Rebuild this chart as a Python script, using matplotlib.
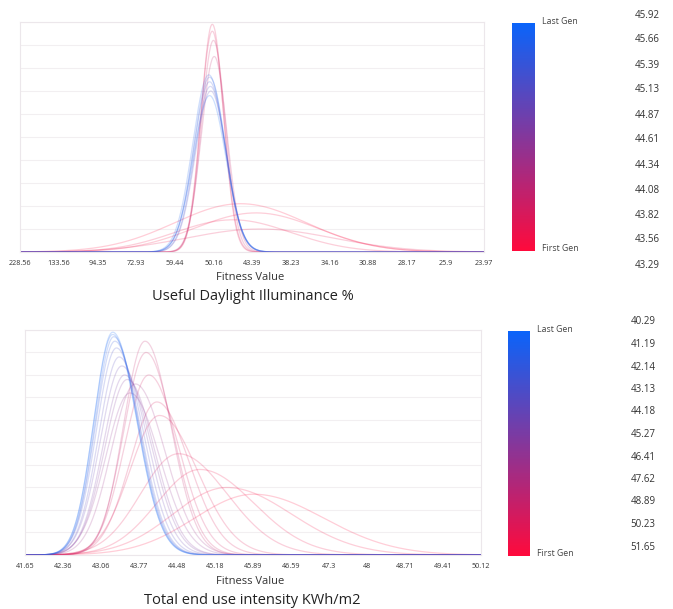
import matplotlib
matplotlib.use('Agg')
import matplotlib.pyplot as plt
import numpy as np
from matplotlib.colors import LinearSegmentedColormap
from matplotlib.cm import ScalarMappable

plt.rcParams['font.family'] = ['Open Sans', 'DejaVu Sans']

# ---- Useful Daylight Illuminance: tick labels (evenly spaced) ----
udi_ticks = ['228.56', '133.56', '94.35', '72.93', '59.44', '50.16', '43.39',
             '38.23', '34.16', '30.88', '28.17', '25.9', '23.97']
# generation curves: generation position (0 = first, 1 = last),
# centre / spread in tick-index units, peak height
udi_gen = [0.0, 0.03, 0.06, 0.09, 0.12, 0.15, 0.2, 0.25, 0.7, 0.76, 0.82, 0.88, 0.94, 1.0]
udi_center = [5.7, 6.1, 5.5, 6.2, 4.97, 4.97, 5.0, 5.02, 4.93, 4.92, 4.9, 4.9, 4.88, 4.9]
udi_sigma = [1.7, 1.6, 1.5, 1.9, 0.29, 0.30, 0.31, 0.33, 0.40, 0.40, 0.41, 0.41, 0.42, 0.42]
udi_peak = [0.21, 0.17, 0.14, 0.10, 0.99, 0.96, 0.92, 0.85, 0.70, 0.72, 0.74, 0.76, 0.77, 0.68]
udi_scale = ['45.92', '45.66', '45.39', '45.13', '44.87', '44.61', '44.34',
             '44.08', '43.82', '43.56', '43.29']

# ---- Total end use intensity ----
eui_ticks = ['41.65', '42.36', '43.06', '43.77', '44.48', '45.18', '45.89',
             '46.59', '47.3', '48', '48.71', '49.41', '50.12']
eui_gen = [0.0, 0.03, 0.06, 0.09, 0.12, 0.15, 0.18, 0.21, 0.24, 0.4,
           0.45, 0.5, 0.55, 0.62, 0.7, 0.77, 0.84, 0.9, 0.95, 1.0]
eui_center = [45.9, 45.4, 44.9, 44.5, 44.15, 44.1, 43.95, 43.9, 43.88, 43.7,
              43.6, 43.55, 43.5, 43.45, 43.4, 43.35, 43.32, 43.3, 43.28, 43.28]
eui_sig_left = [1.1, 1.0, 0.8, 0.7, 0.55, 0.5, 0.45, 0.42, 0.40, 0.45,
                0.45, 0.42, 0.40, 0.40, 0.38, 0.37, 0.36, 0.35, 0.35, 0.35]
eui_sig_right = [1.3, 1.2, 1.0, 0.9, 0.7, 0.6, 0.55, 0.5, 0.48, 0.55,
                 0.55, 0.5, 0.5, 0.48, 0.46, 0.45, 0.45, 0.45, 0.45, 0.45]
eui_peak = [0.27, 0.30, 0.38, 0.45, 0.62, 0.68, 0.80, 0.90, 0.95, 0.76,
            0.72, 0.78, 0.80, 0.84, 0.88, 0.92, 0.95, 0.97, 0.98, 0.99]
eui_scale = ['40.29', '41.19', '42.14', '43.13', '44.18', '45.27', '46.41',
             '47.62', '48.89', '50.23', '51.65']

gen_cmap = LinearSegmentedColormap.from_list('gen', ['#ff0a3c', '#0a64fa'])

fig = plt.figure(figsize=(6.73, 6.09), dpi=100)
fig.patch.set_facecolor('white')


def style_axes(ax):
    ax.set_ylim(0, 1.0)
    ax.set_yticks(np.arange(0, 1.01, 0.1))
    ax.set_yticklabels([])
    ax.tick_params(axis='y', length=0)
    ax.tick_params(axis='x', length=0, pad=6, labelsize=5.2, labelcolor='#333333')
    ax.grid(True, axis='y', color='#f2eff1', linewidth=0.8)
    for s in ax.spines.values():
        s.set_color('#ece7eb')
        s.set_linewidth(0.8)


# top panel
ax1 = fig.add_axes([0.0297, 0.5862, 0.690, 0.3777])
xs = np.linspace(0, 12, 800)
for i in range(len(udi_center)):
    y = udi_peak[i] * np.exp(-0.5 * ((xs - udi_center[i]) / udi_sigma[i]) ** 2)
    ax1.plot(xs, y, color=gen_cmap(udi_gen[i]), alpha=0.2, linewidth=0.9)
ax1.set_xlim(0, 12)
ax1.set_xticks(range(len(udi_ticks)))
ax1.set_xticklabels(udi_ticks)
style_axes(ax1)

# bottom panel
ax2 = fig.add_axes([0.0371, 0.0887, 0.6776, 0.3695])
lo, hi = float(eui_ticks[0]), float(eui_ticks[-1])
xb = np.linspace(lo, hi, 800)
for i in range(len(eui_center)):
    s = np.where(xb < eui_center[i], eui_sig_left[i], eui_sig_right[i])
    y = eui_peak[i] * np.exp(-0.5 * ((xb - eui_center[i]) / s) ** 2)
    ax2.plot(xb, y, color=gen_cmap(eui_gen[i]), alpha=0.2, linewidth=0.9)
ax2.set_xlim(lo, hi)
ax2.set_xticks(np.linspace(lo, hi, len(eui_ticks)))
ax2.set_xticklabels(eui_ticks)
style_axes(ax2)

# axis labels and titles
fig.text(250 / 673, 1 - 277 / 609, 'Fitness Value', ha='center', va='center', fontsize=8, color='#333333')
fig.text(253 / 673, 1 - 297 / 609, 'Useful Daylight Illuminance %', ha='center', va='center', fontsize=10.5, color='#222222')
fig.text(250 / 673, 1 - 581 / 609, 'Fitness Value', ha='center', va='center', fontsize=8, color='#333333')
fig.text(252 / 673, 1 - 601 / 609, 'Total end use intensity KWh/m2', ha='center', va='center', fontsize=10.5, color='#222222')

# generation colour bars
for rect in ([0.7608, 0.5878, 0.0342, 0.3744], [0.7548, 0.0870, 0.0327, 0.3695]):
    cax = fig.add_axes(rect)
    cb = fig.colorbar(ScalarMappable(cmap=gen_cmap), cax=cax)
    cb.outline.set_visible(False)
    cb.set_ticks([])
    fig.text(rect[0] + rect[2] + 0.011, rect[1] + rect[3] + 0.002, 'Last Gen', fontsize=6.3,
             va='center', ha='left', color='#444444')
    fig.text(rect[0] + rect[2] + 0.011, rect[1] + 0.004, 'First Gen', fontsize=6.3,
             va='center', ha='left', color='#444444')

# value columns on the right
for k, lab in enumerate(udi_scale):
    fig.text(647 / 673, 1 - (15 + 25 * k) / 609, lab, ha='center', va='center', fontsize=7, color='#333333')
for k, lab in enumerate(eui_scale):
    fig.text(643 / 673, 1 - (322 + 22.5 * k) / 609, lab, ha='center', va='center', fontsize=7, color='#333333')

fig.savefig('out.png', dpi=100, facecolor='white')
